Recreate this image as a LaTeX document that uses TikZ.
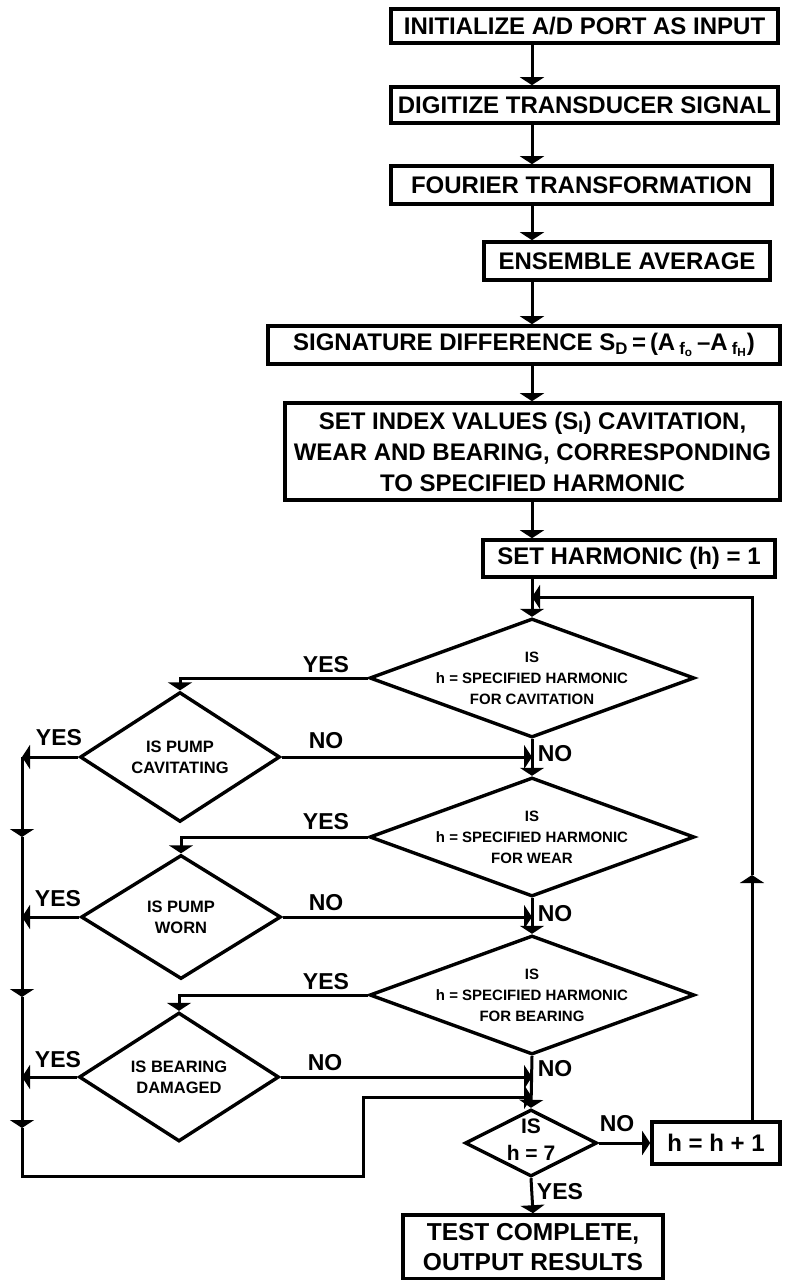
\documentclass[tikz,border=0pt]{standalone}
\usepackage{fontspec}
\setmainfont{Liberation Sans}
\usetikzlibrary{positioning,shapes.geometric,arrows.meta}
\tikzset{box/.style={draw,line width=3.6pt,inner xsep=4pt,inner ysep=1pt,align=center,
            font=\bfseries\fontsize{24}{31}\selectfont},
         decision/.style={diamond,draw,line width=3.4pt,inner sep=0pt,
            minimum width=325pt,minimum height=119pt},
         pump/.style={diamond,draw,line width=3.4pt,inner sep=0pt,align=center,
            minimum width=200pt,minimum height=124pt,
            font=\bfseries\fontsize{16.5}{21}\selectfont},
         dtext/.style={align=center,font=\bfseries\fontsize{15}{21}\selectfont},
         answer/.style={inner sep=0pt,font=\bfseries\fontsize{23}{23}\selectfont},
         flow/.style={line width=3pt,-{Triangle[width=24pt,length=8pt]}},
         line/.style={line width=3pt}
            }

\begin{document}
\begin{tikzpicture}[x=1pt,y=-1pt]
    \fill[white] (0,0) rectangle (788,1280);
    \useasboundingbox (0,0) rectangle (788,1280);
    \coordinate (ax) at (532,0);
    \coordinate (lc) at (22,0);

    % process boxes down the main column
    \node[box,minimum width=387pt,minimum height=34pt] (b1) at (584.5,26) {INITIALIZE A/D PORT AS INPUT};
    \node[box,minimum width=387pt,minimum height=36pt] (b2) at (584.5,105) {DIGITIZE TRANSDUCER SIGNAL};
    \node[box,minimum width=381pt,minimum height=38pt] (b3) at (581.5,185) {FOURIER TRANSFORMATION};
    \node[box,minimum width=286pt,minimum height=38pt] (b4) at (627,261) {ENSEMBLE AVERAGE};
    \node[box,minimum width=512pt,minimum height=38pt] (b5) at (524,345)
        {SIGNATURE DIFFERENCE S\textsubscript{D}\,=\,(A\,\textsubscript{f\textsubscript{o}}\,--A\,\textsubscript{f\textsubscript{H}})};
    \node[box,minimum width=495pt,minimum height=97pt] (b6) at (532.5,451.5)
        {SET INDEX VALUES (S\textsubscript{I}) CAVITATION,\\WEAR AND BEARING, CORRESPONDING\\TO SPECIFIED HARMONIC};
    \node[box,minimum width=292pt,minimum height=37pt] (b7) at (629,558.5) {SET HARMONIC (h) = 1};

    % decisions
    \node[decision,label={[dtext]center:{IS\\h = SPECIFIED HARMONIC\\FOR CAVITATION}}] (d1) at (532,678) {};
    \node[decision,label={[dtext]center:{IS\\h = SPECIFIED HARMONIC\\FOR WEAR}}] (d2) at (532,837) {};
    \node[decision,label={[dtext]center:{IS\\h = SPECIFIED HARMONIC\\FOR BEARING}}] (d3) at (532,995) {};
    \node[pump] (p1) at (180,757) {IS PUMP\\CAVITATING};
    \node[pump] (p2) at (181,917) {IS PUMP\\WORN};
    \node[pump] (p3) at (179,1077) {IS BEARING\\DAMAGED};
    \node[diamond,draw,line width=3.4pt,inner sep=0pt,minimum width=132pt,minimum height=67pt,
          label={[align=center,yshift=3pt,font=\bfseries\fontsize{21}{27}\selectfont]center:{IS\\h = 7}}] (d7) at (531,1143) {};
    \node[box,minimum width=128pt,minimum height=42pt] (h1) at (716,1143) {h = h + 1};
    \node[box,minimum width=260pt,minimum height=64pt,font=\bfseries\fontsize{24.5}{30}\selectfont] (tc) at (533,1247)
        {TEST COMPLETE,\\OUTPUT RESULTS};

    % answers
    \node[answer] (y1) at (326,665) {YES};
    \node[answer] (n1) at (555,754) {NO};
    \node[answer] (y1l) at (59,738) {YES};
    \node[answer] (n1r) at (326,741) {NO};
    \node[answer] (y2) at (326,822) {YES};
    \node[answer] (n2) at (555,914) {NO};
    \node[answer] (y2l) at (58,899) {YES};
    \node[answer] (n2r) at (326,903) {NO};
    \node[answer] (y3) at (326,982) {YES};
    \node[answer] (n3) at (555,1069) {NO};
    \node[answer] (y3l) at (58,1060) {YES};
    \node[answer] (n3r) at (325,1063) {NO};
    \node[answer] (n7) at (617,1124) {NO};
    \node[answer] (y7) at (560,1192) {YES};

    % main column
    \foreach \a/\b in {b1/b2,b2/b3,b3/b4,b4/b5,b5/b6,b6/b7}
        \draw[flow] (\a.south -| ax) -- (\b.north -| ax);
    \draw[flow] (b7.south -| ax) -- (d1.north);
    \draw[flow] (d1.south) -- (d2.north);
    \draw[flow] (d2.south) -- (d3.north);
    \draw[flow] (d3.south) -- (d7.north);
    \draw[flow] (d7.south) -- (tc.north);
    \draw[flow] (d7.east) -- (h1.west);

    % yes and no branches
    \foreach \d/\p in {d1/p1,d2/p2,d3/p3}{
        \draw[flow] (\d.west) -| (\p.north);
        \draw[flow] (\p.east) -- (\p.east -| ax);
        \draw[flow] (\p.west) -- (\p.west -| lc);
    }

    % left column back to h = 7
    \coordinate (t1) at (22,837);
    \coordinate (t2) at (22,997);
    \coordinate (t3) at (22,1128);
    \coordinate (bl) at (22,1176);
    \coordinate (br) at (363,1097);
    \draw[flow] (p1.west -| lc) -- (t1);
    \draw[flow] (t1) -- (t2);
    \draw[flow] (t2) -- (t3);
    \draw[flow] (t3) -- (bl) -| (br) -- (br -| ax);

    % loop h = h + 1
    \coordinate (up) at (752,875);
    \coordinate (j0) at (532,597);
    \draw[flow] (h1.north -| up) -- (up);
    \draw[flow] (up) -- (up |- j0) -- (j0);
\end{tikzpicture}
\end{document}
